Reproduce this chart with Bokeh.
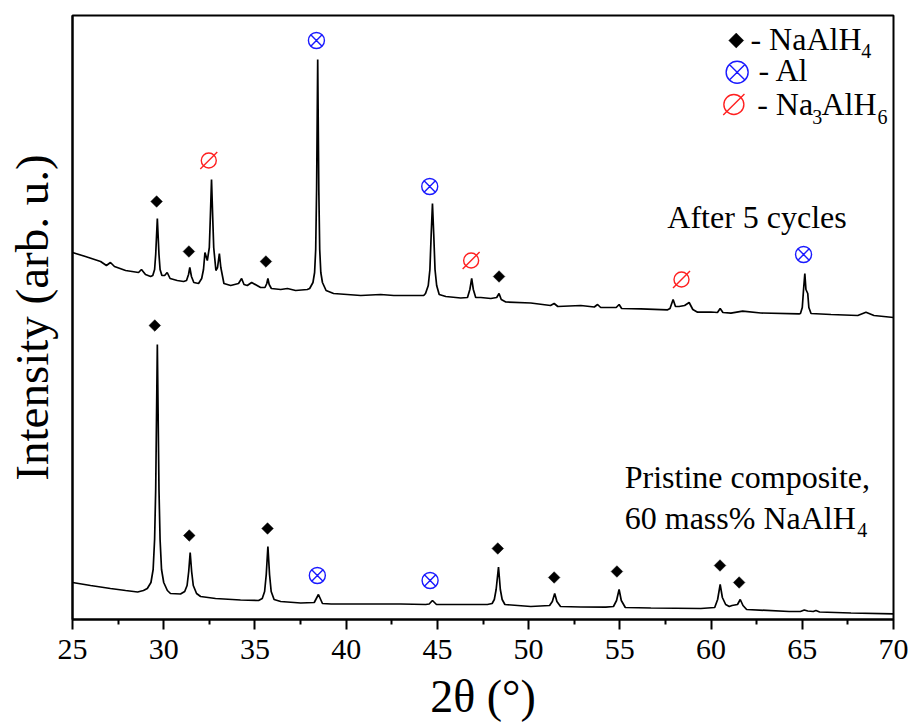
import math
from bokeh.plotting import figure
from bokeh.models import Range1d, FixedTicker, Label
from bokeh.embed import file_html
from bokeh.resources import INLINE

# ---------------- data ----------------
after_2theta = [25.00, 25.71, 26.54, 26.86, 27.08, 27.30, 27.91, 28.62, 28.78, 29.00, 29.28,
                29.40, 29.50, 29.56, 29.65, 29.74, 29.80, 29.90, 30.05, 30.19, 30.35, 30.74,
                31.09, 31.25, 31.36, 31.43, 31.52, 31.65, 31.91, 32.08, 32.18, 32.26, 32.39,
                32.50, 32.56, 32.62, 32.68, 32.74, 32.86, 32.95, 33.05, 33.13, 33.30, 33.67,
                34.10, 34.27, 34.40, 34.58, 34.82, 35.31, 35.55, 35.65, 35.71, 35.78, 35.90,
                36.41, 36.78, 37.23, 37.87, 38.00, 38.18, 38.27, 38.33, 38.38, 38.44, 38.50,
                38.55, 38.61, 38.70, 38.90, 39.31, 40.80, 41.89, 42.61, 44.25, 44.35, 44.50,
                44.59, 44.66, 44.73, 44.80, 44.87, 44.96, 45.10, 45.46, 46.28, 46.65, 46.78,
                46.88, 46.97, 47.10, 47.38, 47.93, 48.25, 48.38, 48.50, 48.75, 50.12, 51.20,
                51.40, 51.60, 52.86, 53.60, 53.78, 53.95, 54.80, 54.96, 55.10, 56.15, 57.62,
                57.75, 57.92, 58.05, 58.25, 58.55, 58.80, 59.00, 59.26, 59.99, 60.35, 60.50,
                60.65, 61.09, 61.73, 62.73, 64.83, 64.90, 65.00, 65.07, 65.14, 65.20, 65.30,
                65.36, 65.48, 66.57, 68.04, 68.49, 68.93, 70.00]
after_intensity = [367, 363, 358, 354, 357, 353, 349, 347, 350, 345, 343,
                   344, 350, 365, 401, 365, 350, 344, 344, 347, 341, 339,
                   338, 339, 345, 352, 343, 337, 336, 341, 350, 367, 359,
                   372, 405, 440, 405, 372, 349, 352, 366, 352, 336, 334,
                   336, 341, 335, 334, 337, 332, 332, 336, 341, 335, 331,
                   330, 331, 329, 330, 331, 337, 347, 370, 430, 560, 430,
                   370, 347, 337, 329, 326, 324, 325, 324, 324, 326, 334,
                   350, 385, 416, 385, 350, 334, 325, 323, 321.5, 322, 330,
                   341, 330, 322, 322, 321, 322, 326, 320, 317.5, 316.5, 314,
                   316, 313, 314, 312.5, 315, 312, 312, 315, 311, 310.7, 309.7,
                   311, 320, 313, 313, 314, 317, 310, 307.3, 307.5, 307, 311,
                   307, 306.3, 308.3, 306.5, 305.7, 306, 312, 330, 346, 330, 326,
                   312, 306, 305, 304, 307.3, 304, 302]

pristine_2theta = [25.00, 25.99, 27.08, 27.91, 28.57, 28.89, 29.10, 29.30, 29.42, 29.50, 29.56,
                   29.65, 29.74, 29.80, 29.88, 30.00, 30.20, 30.37, 30.92, 31.15, 31.28, 31.37,
                   31.45, 31.53, 31.62, 31.80, 32.02, 32.84, 34.21, 35.20, 35.40, 35.53, 35.62,
                   35.71, 35.80, 35.89, 36.05, 36.41, 37.51, 38.25, 38.48, 38.70, 39.18, 40.80,
                   42.99, 44.36, 44.55, 44.73, 44.95, 45.80, 47.74, 48.00, 48.12, 48.22, 48.35,
                   48.45, 48.55, 48.70, 50.12, 51.15, 51.30, 51.43, 51.55, 51.75, 52.86, 54.23,
                   54.65, 54.82, 54.96, 55.08, 55.30, 56.70, 59.44, 60.20, 60.36, 60.50, 60.62,
                   60.80, 61.00, 61.15, 61.45, 61.60, 61.75, 61.95, 64.28, 64.90, 65.11, 65.30,
                   65.60, 65.75, 65.95, 67.67, 70.00]
pristine_intensity = [37, 34, 31, 29, 27.5, 29, 31, 37, 50, 80, 130,
                      275, 130, 80, 50, 37, 29, 26, 25.5, 28, 34, 48,
                      67, 48, 34, 26, 23, 21, 19.5, 19, 21, 28, 45,
                      73, 45, 28, 20, 18, 16.5, 17, 25, 16, 15.5, 15.5,
                      15.5, 15, 15.5, 19, 15, 15, 15, 16, 20, 30, 52.5,
                      30, 20, 15, 13, 14, 18, 26, 18, 13, 12.5, 12.3,
                      13, 19, 30, 19, 12, 11.5, 11, 12, 20, 35, 22,
                      15, 13, 14, 15, 20, 14, 10, 8, 8, 9.5, 8.5,
                      8, 9, 7.5, 6.5, 5.7]

# phase markers (peak labels)
naalh4_after_x = [29.61, 31.38, 35.60, 48.38]
naalh4_after_y = [418, 368, 358, 343]
al_after_x = [38.37, 44.58, 65.07]
al_after_y = [579, 433, 365]
na3alh6_after_x = [32.47, 46.85, 58.38]
na3alh6_after_y = [459, 359, 340]
naalh4_pristine_x = [29.51, 31.40, 35.69, 48.31, 51.40, 54.84, 60.49, 61.54]
naalh4_pristine_y = [294, 84, 91, 71, 42, 48, 54, 37]
al_pristine_x = [38.42, 44.60]
al_pristine_y = [44, 39]

x_ticks = [25, 30, 35, 40, 45, 50, 55, 60, 65, 70]
x_minor = [27.5, 32.5, 37.5, 42.5, 47.5, 52.5, 57.5, 62.5, 67.5]

FONT = "Liberation Serif"
BLUE = "#1a1aff"
RED = "#ff2020"

# ---------------- figure ----------------
p = figure(width=908, height=724, output_backend="svg", toolbar_location=None,
           x_range=Range1d(25, 70), y_range=Range1d(0, 604),
           min_border_left=72, min_border_right=15, min_border_top=15, min_border_bottom=105)
p.background_fill_color = "white"
p.border_fill_color = "white"
p.outline_line_color = "black"
p.outline_line_width = 2
p.outline_line_alpha = 1.0
p.grid.grid_line_color = None

ax = p.xaxis[0]
ax.ticker = FixedTicker(ticks=x_ticks, minor_ticks=x_minor)
ax.axis_line_width = 2
ax.axis_line_color = "black"
ax.major_tick_line_width = 2
ax.minor_tick_line_width = 2
ax.major_tick_out = 10
ax.major_tick_in = 0
ax.minor_tick_out = 5
ax.minor_tick_in = 0
ax.major_label_text_font = FONT
ax.major_label_text_font_size = "30px"
ax.major_label_text_color = "black"
ax.major_label_standoff = 10
ax.axis_label = "2\u03b8 (\u00b0)"
ax.axis_label_text_font = FONT
ax.axis_label_text_font_size = "46px"
ax.axis_label_text_font_style = "normal"
ax.axis_label_text_color = "black"
ax.axis_label_standoff = 9

ay = p.yaxis[0]
ay.ticker = FixedTicker(ticks=[])
ay.axis_line_width = 2
ay.axis_line_color = "black"
ay.major_tick_line_color = None
ay.minor_tick_line_color = None
ay.axis_label = "Intensity (arb. u.)"
ay.axis_label_text_font = FONT
ay.axis_label_text_font_size = "47px"
ay.axis_label_text_font_style = "normal"
ay.axis_label_text_color = "black"
ay.axis_label_standoff = 15

# traces
p.line(after_2theta, after_intensity, line_color="black", line_width=1.7)
p.line(pristine_2theta, pristine_intensity, line_color="black", line_width=1.7)

# markers
def diamonds(xs, ys, size=8.2):
    p.scatter(xs, ys, marker="square", size=size, angle=math.pi / 4,
              fill_color="black", line_color="black", line_width=0.5)

def al_marks(xs, ys, size=16):
    p.scatter(xs, ys, marker="circle_x", size=size, fill_color=None,
              line_color=BLUE, line_width=1.4)

def na3_marks(xs, ys, size=15, slash=24):
    p.scatter(xs, ys, marker="circle", size=size, fill_color=None,
              line_color=RED, line_width=1.4)
    p.scatter(xs, ys, marker="dash", size=slash, angle=math.pi / 4,
              line_color=RED, line_width=1.4)

diamonds(naalh4_after_x, naalh4_after_y)
diamonds(naalh4_pristine_x, naalh4_pristine_y)
al_marks(al_after_x, al_after_y)
al_marks(al_pristine_x, al_pristine_y)
na3_marks(na3alh6_after_x, na3alh6_after_y)

# legend symbols
diamonds([61.38], [579], size=10.5)
al_marks([61.43], [547.3], size=22)
na3_marks([61.25], [515], size=20, slash=30)

def lab(x, y, text, size="32px", style="normal", align="left", angle=0.0):
    p.add_layout(Label(x=x, y=y, x_units="data", y_units="data", text=text,
                       text_font=FONT, text_font_size=size, text_font_style=style,
                       text_color="black", text_align=align,
                       text_baseline="alphabetic", angle=angle))

# legend text
lab(62.16, 581, "- NaAlH")
lab(68.23, 569, "4", size="20px")
lab(62.60, 549.3, "- Al")
lab(62.53, 516, "- Na")
lab(65.54, 503, "3", size="20px")
lab(66.05, 516, "AlH")
lab(69.12, 503, "6", size="20px")

# sample labels
lab(57.60, 402.7, "After 5 cycles")
lab(55.27, 142.7, "Pristine composite,")
lab(55.27, 101.7, "60 mass% NaAlH")
lab(68.01, 89.5, "4", size="20px")

open("out.html", "w").write(file_html(p, INLINE))
